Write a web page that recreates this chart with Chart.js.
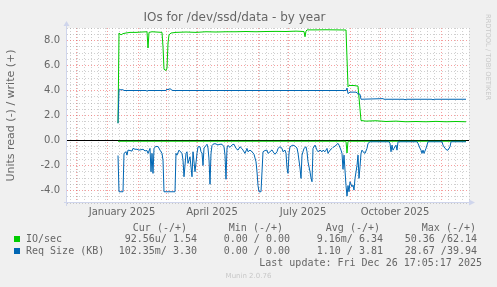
<!DOCTYPE html>
<html>
<head>
<meta charset="utf-8">
<script src="https://cdn.jsdelivr.net/npm/chart.js@4"></script>
<style>
  html, body { margin: 0; padding: 0; background: #f0f0f0; }
  #wrap { position: relative; width: 497px; height: 287px; overflow: hidden;
          font-family: 'DejaVu Sans Mono', monospace; font-size: 10px; color: #666; }
  #wrap canvas { position: absolute; left: 0; top: 0; }
  .t { position: absolute; white-space: pre; line-height: 12px; }
  .sw { position: absolute; width: 6px; height: 6px; }
  .side { position: absolute; left: 484px; top: 14px; writing-mode: vertical-rl;
          font: 6.7px 'DejaVu Sans', sans-serif; line-height: 8px; color: #c8c8c8; white-space: nowrap; }
  .ver { position: absolute; left: 0; width: 497px; top: 271px; text-align: center;
         font: 7px 'DejaVu Sans', sans-serif; line-height: 10px; color: #c8c8c8; }
</style>
</head>
<body>
<div id="wrap">
  <canvas id="chart" width="497" height="287"></canvas>

  <div class="t" style="right:310px;top:222px">Cur (-/+)</div>
  <div class="t" style="right:214px;top:222px">Min (-/+)</div>
  <div class="t" style="right:117px;top:222px">Avg (-/+)</div>
  <div class="t" style="right:21px;top:222px">Max (-/+)</div>

  <div class="sw" style="left:14px;top:236px;background:#00cc00"></div>
  <div class="t" style="left:26px;top:233px">IO/sec</div>
  <div class="t" style="right:300px;top:233px">92.56u/ 1.54</div>
  <div class="t" style="right:207px;top:233px">0.00 / 0.00</div>
  <div class="t" style="right:114px;top:233px">9.16m/ 6.34</div>
  <div class="t" style="right:20px;top:233px">50.36 /62.14</div>

  <div class="sw" style="left:14px;top:248px;background:#0066b3"></div>
  <div class="t" style="left:26px;top:245px">Req Size (KB)</div>
  <div class="t" style="right:300px;top:245px">102.35m/ 3.30</div>
  <div class="t" style="right:207px;top:245px">0.00 / 0.00</div>
  <div class="t" style="right:114px;top:245px">1.10 / 3.81</div>
  <div class="t" style="right:20px;top:245px">28.67 /39.94</div>

  <div class="t" style="right:15px;top:257px">Last update: Fri Dec 26 17:05:17 2025</div>
  <div class="ver">Munin 2.0.76</div>
  <div class="side">RRDTOOL / TOBI OETIKER</div>
</div>

<script>
// days are counted from 2024-12-01
const dayZero = Date.parse('2024-12-01');
const toDay = s => (Date.parse(s) - dayZero) / 864e5;

const xStart = '2024-11-22';
const xEnd = '2025-12-29';
const monthStarts = ['2024-12-01', '2025-01-01', '2025-02-01', '2025-03-01', '2025-04-01', '2025-05-01',
  '2025-06-01', '2025-07-01', '2025-08-01', '2025-09-01', '2025-10-01', '2025-11-01', '2025-12-01'];
const labelDates = ['2025-01-16', '2025-04-16', '2025-07-16', '2025-10-16'];
const labelTexts = ['January 2025', 'April 2025', 'July 2025', 'October 2025'];
const yTickValues = [-5, -4.5, -4, -3.5, -3, -2.5, -2, -1.5, -1, -0.5, 0, 0.5, 1, 1.5, 2, 2.5, 3, 3.5,
  4, 4.5, 5, 5.5, 6, 6.5, 7, 7.5, 8, 8.5, 9];

// [day, value] samples
const ioWrite = [[42, 1.4], [43, 8.6], [45, 8.45], [47, 8.55], [50, 8.6], [54, 8.65], [60, 8.65], [66, 8.68],
  [71, 8.7], [72, 7.4], [73, 8.65], [76, 8.7], [80, 8.68], [86, 8.65], [87, 7.5], [88, 5.7], [90, 5.6],
  [91, 5.8], [92, 7.8], [93, 8.45], [95, 8.6], [100, 8.65], [110, 8.68], [120, 8.65], [130, 8.7],
  [140, 8.68], [150, 8.7], [160, 8.7], [170, 8.72], [180, 8.7], [190, 8.72], [200, 8.73], [210, 8.72],
  [220, 8.75], [228, 8.72], [229, 8.3], [230, 8.75], [231, 8.85], [240, 8.85], [250, 8.86], [260, 8.85],
  [270, 8.84], [272, 4.3], [273, 4.4], [278, 4.4], [282, 4.35], [285, 1.6], [290, 1.55], [300, 1.58],
  [310, 1.52], [320, 1.55], [330, 1.5], [340, 1.52], [350, 1.5], [360, 1.53], [370, 1.5], [380, 1.52],
  [390, 1.5]];

const ioRead = [[42, -0.06], [270, -0.06], [271, -1.0], [272, -0.06], [390, -0.06]];

const reqWrite = [[42, 1.37], [43, 4.06], [47, 4.06], [48, 4.0], [70, 4.0], [71, 3.95], [72, 4.0], [90, 4.0],
  [91, 4.12], [92, 4.05], [94, 4.15], [96, 4.02], [97, 4.0], [270, 4.0], [271, 4.2], [272, 3.75],
  [274, 3.87], [280, 3.87], [282, 3.75], [284, 3.7], [285, 3.3], [307, 3.35], [308, 3.3], [328, 3.3],
  [329, 3.25], [330, 3.3], [356, 3.3], [357, 3.25], [358, 3.3], [390, 3.3]];

const reqRead = [[42, -1.2], [43, -4.1], [47, -4.1], [48, -1.03], [50, -0.9], [51, -1.17], [52, -0.77],
  [54, -0.8], [56, -0.85], [57, -0.63], [59, -0.7], [61, -0.7], [63, -0.77], [64, -0.75], [66, -0.72],
  [67, -0.7], [69, -0.83], [71, -0.8], [72, -1.03], [74, -0.63], [75, -2.5], [76, -1.03], [77, -2.63],
  [78, -0.63], [80, -0.45], [81, -0.5], [82, -0.47], [84, -0.77], [86, -1.03], [87, -1.57], [88, -4.1],
  [99, -4.1], [100, -1.03], [101, -1.17], [103, -0.77], [106, -1.03], [107, -1.57], [108, -2.9],
  [110, -1.03], [111, -0.9], [112, -1.83], [114, -1.3], [116, -2.9], [117, -0.9], [119, -2.5],
  [121, -1.03], [122, -0.5], [124, -0.5], [125, -0.9], [126, -1.0], [127, -2.0], [128, -0.6], [130, -0.4],
  [131, -0.3], [132, -0.6], [133, -1.5], [134, -3.5], [135, -1.03], [136, -0.4], [137, -0.3], [139, -0.25],
  [142, -0.35], [144, -0.3], [146, -0.3], [148, -0.5], [149, -1.17], [150, -3.1], [151, -0.6], [152, -0.4],
  [154, -0.55], [156, -0.35], [158, -0.3], [160, -0.63], [162, -0.77], [164, -0.5], [166, -0.65],
  [167, -0.77], [169, -1.03], [171, -0.63], [172, -0.9], [174, -0.77], [176, -0.9], [178, -1.1],
  [180, -1.7], [181, -2.5], [182, -3.6], [183, -4.1], [185, -4.1], [186, -2.5], [187, -0.9], [189, -0.8],
  [191, -0.77], [192, -1.03], [194, -0.9], [196, -0.75], [197, -0.9], [199, -1.1], [201, -0.9],
  [202, -0.63], [204, -0.5], [206, -0.63], [207, -0.9], [209, -0.77], [210, -1.03], [211, -2.2],
  [212, -2.63], [213, -1.0], [214, -0.5], [216, -0.4], [217, -0.37], [219, -0.45], [221, -0.6],
  [222, -1.0], [224, -2.2], [225, -3.03], [226, -1.17], [228, -0.63], [230, -0.5], [231, -0.9],
  [232, -1.7], [234, -2.5], [235, -3.0], [236, -3.3], [237, -0.63], [239, -0.37], [241, -0.77],
  [242, -0.9], [244, -0.77], [246, -0.9], [247, -0.77], [249, -0.9], [251, -0.63], [252, -1.03],
  [254, -0.77], [256, -0.63], [257, -0.55], [259, -0.45], [261, -0.3], [262, -0.23], [263, -0.37],
  [265, -0.77], [266, -1.03], [267, -2.3], [268, -1.17], [270, -3.6], [271, -4.45], [272, -3.6],
  [273, -4.1], [274, -3.3], [276, -3.7], [277, -3.57], [278, -3.97], [279, -3.03], [281, -2.0],
  [282, -1.17], [283, -3.03], [284, -2.1], [285, -1.03], [286, -0.77], [287, -0.9], [289, -1.03],
  [291, -0.63], [292, -0.23], [294, -0.1], [313, -0.1], [314, -0.23], [315, -0.9], [316, -0.37],
  [317, -0.77], [318, -0.63], [320, -0.37], [321, -0.77], [322, -0.1], [341, -0.1], [342, -0.23],
  [344, -0.63], [345, -0.77], [346, -1.03], [347, -0.77], [348, -1.03], [350, -0.63], [351, -0.37],
  [352, -0.1], [366, -0.1], [367, -0.37], [369, -0.63], [371, -0.77], [372, -0.77], [374, -0.5],
  [375, -0.1], [390, -0.1]];

const X_MIN = toDay(xStart);
const X_MAX = toDay(xEnd);
const monthDays = monthStarts.map(toDay);
const labelDays = labelDates.map(toDay);

// weekly grid on mondays
const mondays = [];
for (let d = toDay('2024-11-25'); d <= X_MAX; d += 7) {
  if (!monthDays.includes(d)) mondays.push(d);
}
const xTicks = [...mondays, ...monthDays, ...labelDays].sort((a, b) => a - b);

const pts = arr => arr.map(p => ({x: p[0], y: p[1]}));
const line = (label, data, color, order) => ({
  label, data: pts(data), borderColor: color, backgroundColor: color,
  borderWidth: 1, pointRadius: 0, tension: 0, fill: false, order
});

const minorGrid = 'rgba(150,150,150,0.45)';
const majorGrid = 'rgba(240,80,80,0.55)';

const muninFrame = {
  id: 'muninFrame',
  beforeDraw(chart) {
    const {ctx, chartArea: a} = chart;
    ctx.save();
    ctx.fillStyle = '#ffffff';
    ctx.fillRect(a.left, a.top, a.right - a.left, a.bottom - a.top);
    ctx.restore();
  },
  afterDraw(chart) {
    const {ctx, chartArea: a} = chart;
    const ax = a.left - 0.5, ay = a.bottom - 0.5;
    ctx.save();
    ctx.strokeStyle = '#cfd5ec';
    ctx.fillStyle = '#cfd5ec';
    ctx.lineWidth = 1;
    ctx.beginPath();
    ctx.moveTo(ax, a.bottom + 3); ctx.lineTo(ax, a.top - 2);
    ctx.moveTo(a.left - 3, ay); ctx.lineTo(a.right, ay);
    ctx.stroke();
    ctx.beginPath();
    ctx.moveTo(ax, a.top - 7); ctx.lineTo(ax - 3, a.top - 2); ctx.lineTo(ax + 3, a.top - 2);
    ctx.closePath(); ctx.fill();
    ctx.beginPath();
    ctx.moveTo(a.right + 6, ay); ctx.lineTo(a.right, ay - 3); ctx.lineTo(a.right, ay + 3);
    ctx.closePath(); ctx.fill();
    ctx.restore();
  }
};

Chart.defaults.font.family = "'DejaVu Sans', sans-serif";
Chart.defaults.color = '#666666';

new Chart(document.getElementById('chart'), {
  type: 'line',
  data: {
    datasets: [
      line('Req Size (KB) write', reqWrite, '#0066b3', 0),
      line('Req Size (KB) read', reqRead, '#0066b3', 1),
      line('IO/sec write', ioWrite, '#00cc00', 2),
      line('IO/sec read', ioRead, '#00cc00', 3),
      line('zero', [[X_MIN, 0], [X_MAX, 0]], '#000000', 4)
    ]
  },
  options: {
    responsive: false,
    animation: false,
    devicePixelRatio: 1,
    layout: { padding: { left: 0, right: 28, top: 0, bottom: 0 } },
    plugins: {
      legend: { display: false },
      tooltip: { enabled: false },
      title: {
        display: true,
        text: 'IOs for /dev/ssd/data - by year',
        color: '#666666',
        font: { size: 12, weight: 'normal', lineHeight: '14px' },
        padding: { top: 11, bottom: 3 }
      }
    },
    scales: {
      x: {
        type: 'linear',
        min: X_MIN,
        max: X_MAX,
        afterBuildTicks: s => { s.ticks = xTicks.map(v => ({value: v})); },
        afterFit: s => { s.height = 84; },
        grid: {
          drawTicks: false,
          color: c => {
            const v = c.tick ? c.tick.value : null;
            if (monthDays.includes(v)) return majorGrid;
            if (labelDays.includes(v)) return 'rgba(0,0,0,0)';
            return minorGrid;
          }
        },
        border: { display: false, dash: [1, 2] },
        ticks: {
          autoSkip: false,
          maxRotation: 0,
          padding: 3,
          font: { size: 10 },
          callback: v => {
            const i = labelDays.indexOf(v);
            return i >= 0 ? labelTexts[i] : '';
          }
        }
      },
      y: {
        min: -5,
        max: 9,
        afterBuildTicks: s => { s.ticks = yTickValues.map(v => ({value: v})); },
        afterFit: s => { s.width = 67; },
        grid: {
          drawTicks: false,
          color: c => (c.tick && c.tick.value % 2 === 0) ? majorGrid : minorGrid
        },
        border: { display: false, dash: [1, 2] },
        ticks: {
          autoSkip: false,
          padding: 7,
          font: { size: 10 },
          callback: v => (v % 2 === 0 ? v.toFixed(1) : '')
        },
        title: {
          display: true,
          text: 'Units read (-) / write (+)',
          color: '#666666',
          font: { size: 11 },
          padding: { top: 5, bottom: 0 }
        }
      }
    }
  },
  plugins: [muninFrame]
});
</script>
</body>
</html>
